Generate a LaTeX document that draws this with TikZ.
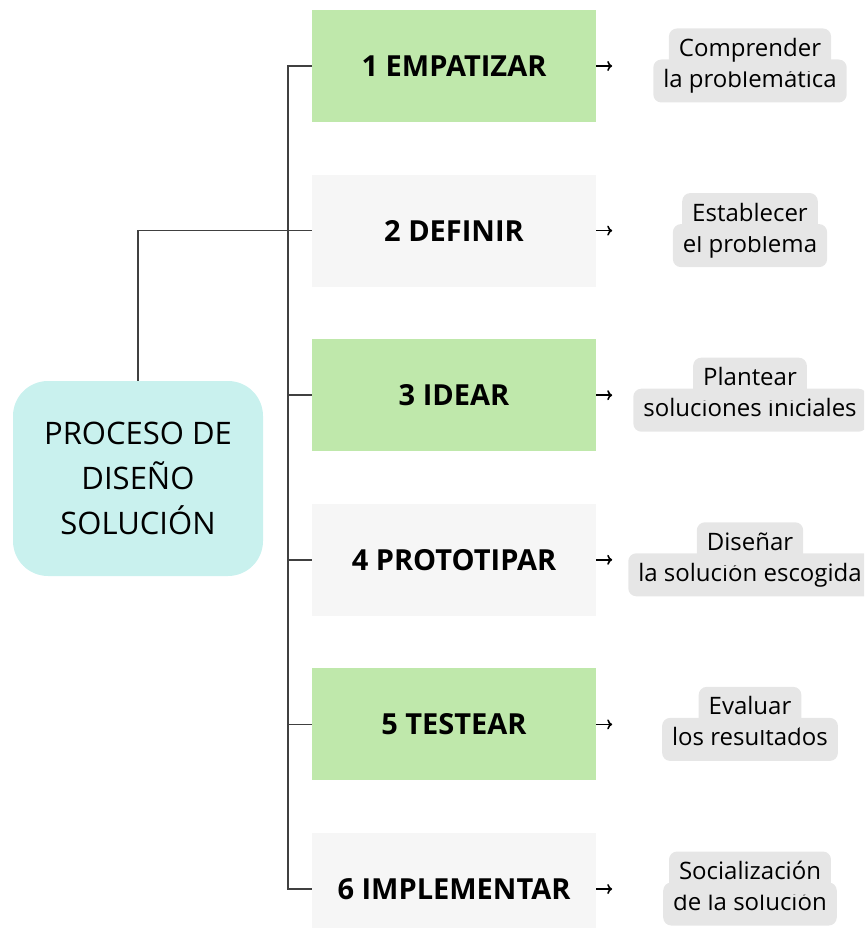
\documentclass[tikz,border=0pt]{standalone}
\usepackage{fontspec}
\setmainfont{Open Sans}
\usepackage{xcolor}
\usetikzlibrary{arrows.meta}

\definecolor{stepgreen}{HTML}{BFE8AB}
\definecolor{stepgray}{HTML}{F6F6F6}
\definecolor{rootcyan}{HTML}{C9F1EE}
\definecolor{labgray}{HTML}{E6E6E6}
\definecolor{linegray}{HTML}{404040}

\tikzset{
	stepbox/.style={minimum width=284pt, minimum height=112pt, inner sep=0pt, font=\fontsize{29}{34}\selectfont\bfseries},
	rootbox/.style={fill=rootcyan, rounded corners=35pt, minimum width=250pt, minimum height=195pt, align=center, font=\fontsize{31}{45}\selectfont},
	labline/.style={fill=labgray, rounded corners=8pt, inner xsep=10pt, inner ysep=10pt, text height=18pt, text depth=5pt, font=\fontsize{24}{30}\selectfont},
	conn/.style={draw=linegray, line width=1.5pt},
	arr/.style={line width=1.6pt, -{To[length=5pt,width=10pt]}}
}

\begin{document}
\begin{tikzpicture}[x=1pt,y=-1pt]
				\clip (0,0) rectangle (864,928);
				\node[rootbox] (root) at (138,478.5) {PROCESO DE\\DISEÑO\\SOLUCIÓN};
				
				\foreach \i/\txt/\col in {1/1 EMPATIZAR/stepgreen, 2/2 DEFINIR/stepgray, 3/3 IDEAR/stepgreen, 4/4 PROTOTIPAR/stepgray, 5/5 TESTEAR/stepgreen, 6/6 IMPLEMENTAR/stepgray} {
					\node[stepbox, fill=\col] (b\i) at (454,{66+(\i-1)*164.6}) {\txt};
					\coordinate (a\i) at ([xshift=16pt]b\i.east);
					\draw[arr] (b\i.east) -- (a\i);
				}
				
				\foreach \i/\top/\bot in {1/Comprender/la problemática, 2/Establecer/el problema, 3/Plantear/soluciones iniciales, 4/Diseñar/la solución escogida, 5/Evaluar/los resultados, 6/Socialización/de la solución} {
					\node[labline] (l\i b) at (750,{66+(\i-1)*164.6+15}) {\bot};
					\node[labline] (l\i a) at (750,{66+(\i-1)*164.6-16}) {\top};
				}
				
				\draw[conn] (root.north) |- (b2.west);
				\draw[conn] (b1.west) -- ++(-24,0) |- (b6.west);
				\foreach \i in {3,4,5} {
					\draw[conn] (b\i.west) -- ++(-24,0);
				}
\end{tikzpicture}
\end{document}
